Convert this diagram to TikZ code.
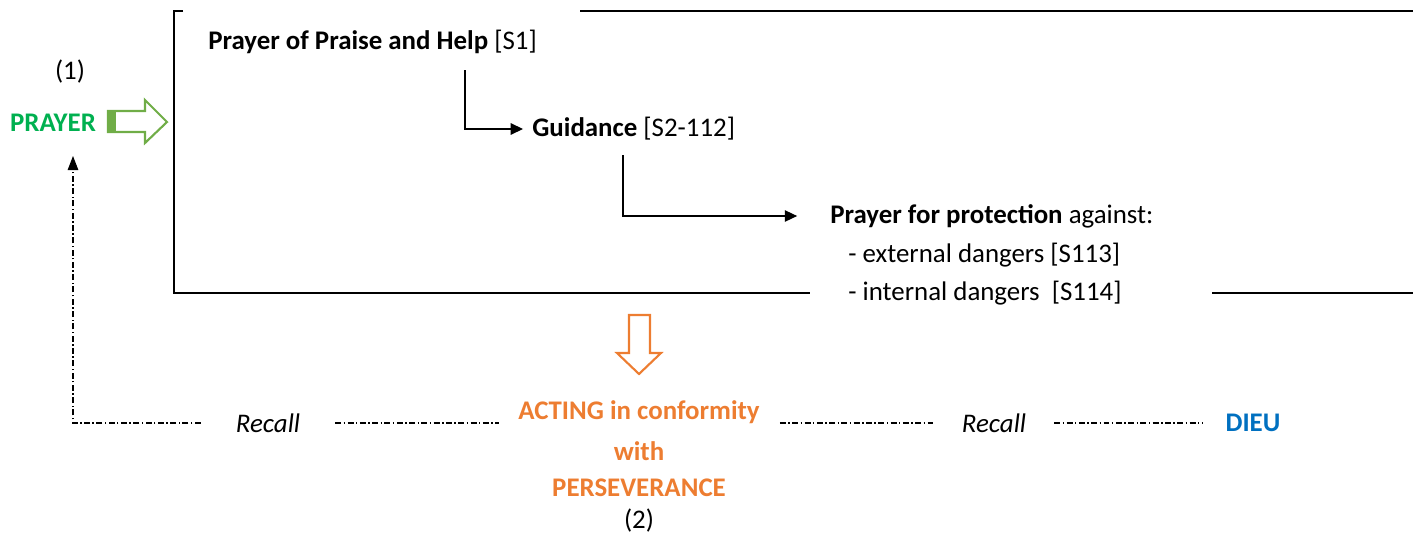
\documentclass[tikz,border=0pt]{standalone}
\usepackage{fontspec}
\setmainfont{Carlito}
\usepackage{tikz}
\usetikzlibrary{arrows.meta}
\usetikzlibrary{positioning}
\usetikzlibrary{calc}

\definecolor{prgreen}{HTML}{00B050}
\definecolor{arrgreen}{HTML}{70AD47}
\definecolor{actorange}{HTML}{ED7D31}
\definecolor{dieublue}{HTML}{0070C0}
\newdimen\px \px=0.5669pt
\newcommand{\fs}{\fontsize{15.3}{18}\selectfont}

\tikzset{
  lbl/.style={inner sep=0pt, font=\fs},
  bold/.style={inner sep=0pt, font=\fs\bfseries},
  ital/.style={inner sep=0pt, font=\fs\itshape},
  frameline/.style={line width=1.2pt},
  flow/.style={line width=0.7pt, -{Triangle[length=7pt,width=6.5pt]}},
  recline/.style={line width=0.6pt, dash pattern=on 3.4pt off 1.4pt on 0.8pt off 1.4pt},
}

\begin{document}
\begin{tikzpicture}[x=0.02cm,y=-0.02cm]
        \useasboundingbox (0,0) rectangle (1413,534);

        % open frame
        \draw[frameline] (183,11) -- (174,11) -- (174,293) -- (810,293);
        \draw[frameline] (580,11) -- (1413,11);
        \draw[frameline] (1212,293) -- (1413,293);

        % (1) prayer
        \node[lbl] (one) at (70,72) {(1)};
        \node[bold, text=prgreen] (prayer) at (53,123) {PRAYER};
        \fill[arrgreen] (108,111) rectangle (116,132);
        \draw[arrgreen, line width=1.2pt] (108,111) -- (145,111) -- (145,100) -- (167,122) -- (145,143) -- (145,132) -- (108,132) -- cycle;

        % steps inside the frame
        \node[lbl, anchor=west] (praise) at (208,42) {\textbf{Prayer of Praise and Help} [S1]};
        \node[lbl, anchor=west] (guide) at (532,129) {\textbf{Guidance} [S2-112]};
        \node[lbl, anchor=west] (protect) at (830,216) {\textbf{Prayer for protection} against:};
        \node[lbl, anchor=west] (extern) at (848,255) {- external dangers [S113]};
        \node[lbl, anchor=west] (intern) at (848,293) {- internal dangers~~[S114]};

        \draw[flow, shorten >=9\px] ($(praise.west)+(257,28)$) |- (guide.west);
        \draw[flow, shorten >=33\px] ($(guide.west)+(91,26)$) |- (protect.west);

        % down arrow
        \draw[actorange, fill=white, line width=1.2pt] (629,315) -- (650,315) -- (650,353) -- (661,353) -- (639,374) -- (617,353) -- (629,353) -- cycle;

        % (2) acting
        \node[bold, text=actorange] (acting) at (639,412) {ACTING in conformity};
        \node[bold, text=actorange] (with) at (639,451) {with};
        \node[bold, text=actorange] (perse) at (639,488) {PERSEVERANCE};
        \node[lbl] (two) at (639,521) {(2)};
        \node[ital] (recallA) at (268,423) {Recall};
        \node[ital] (recallB) at (994,423) {Recall};
        \node[bold, text=dieublue] (dieu) at (1253,423) {DIEU};

        \coordinate (uptip) at (73,156);
        \draw[recline, -{Triangle[length=8pt,width=6pt]}, shorten <=35\px] (recallA.west) -| (uptip);
        \draw[recline, shorten <=35\px, shorten >=19\px] (recallA.east) -- (recallA.east -| acting.west);
        \draw[recline, shorten <=20\px, shorten >=29\px] (recallA.east -| acting.east) -- (recallB.west);
        \draw[recline, shorten <=28\px, shorten >=23\px] (recallB.east) -- (dieu.west);
\end{tikzpicture}
\end{document}
